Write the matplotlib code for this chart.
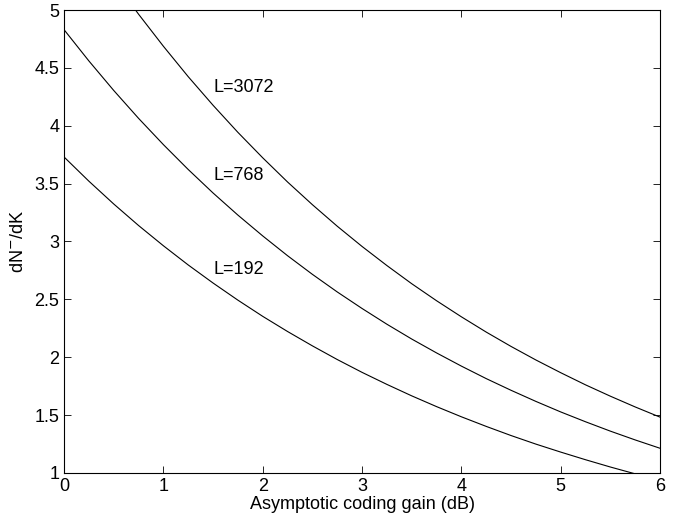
import numpy as np
import matplotlib.pyplot as plt

plt.rcParams['font.family'] = ['Liberation Sans', 'DejaVu Sans']

# coding gain (dB)
gain = [0, 0.25, 0.5, 0.75, 1, 1.25, 1.5, 1.75, 2, 2.25, 2.5, 2.75, 3,
        3.25, 3.5, 3.75, 4, 4.25, 4.5, 4.75, 5, 5.25, 5.5, 5.75, 6]

# values
l192 = [3.730, 3.521, 3.324, 3.138, 2.963, 2.797, 2.641, 2.493, 2.353, 2.222, 2.098,
        1.980, 1.869, 1.765, 1.666, 1.573, 1.485, 1.402, 1.323, 1.249, 1.180, 1.114,
        1.051, 0.992, 0.937]
l768 = [4.830, 4.560, 4.305, 4.064, 3.837, 3.622, 3.419, 3.228, 3.048, 2.877, 2.716,
        2.564, 2.421, 2.285, 2.157, 2.037, 1.923, 1.815, 1.714, 1.618, 1.527, 1.442,
        1.361, 1.285, 1.213]
l3072 = [5.900, 5.570, 5.258, 4.964, 4.687, 4.424, 4.177, 3.943, 3.723, 3.514, 3.318,
         3.132, 2.957, 2.792, 2.635, 2.488, 2.349, 2.217, 2.093, 1.976, 1.866, 1.761,
         1.663, 1.570, 1.482]

labels = ['L=192', 'L=768', 'L=3072']
label_x = [1.5, 1.5, 1.5]
label_y = [2.76, 3.57, 4.33]

fig = plt.figure(figsize=(6.89, 5.29), dpi=100)
ax = fig.add_axes([0.093, 0.106, 0.865, 0.875])

for ys in (l192, l768, l3072):
    ax.plot(gain, ys, color='black', linewidth=0.8)

for t, x, y in zip(labels, label_x, label_y):
    ax.text(x, y, t, fontsize=13, ha='left', va='center')

ax.set_xlim(0, 6)
ax.set_ylim(1, 5)
ax.set_xticks(np.arange(0, 7, 1))
ax.set_yticks(np.arange(1, 5.5, 0.5))
ax.set_yticklabels(['1', '1.5', '2', '2.5', '3', '3.5', '4', '4.5', '5'])
ax.tick_params(direction='in', top=True, right=True, length=5, labelsize=13, width=0.6)
for s in ax.spines.values():
    s.set_linewidth(0.8)

ax.set_xlabel('Asymptotic coding gain (dB)', fontsize=13, labelpad=1)
ax.set_ylabel(r'dN$^{-}$/dK', fontsize=13, labelpad=5)

fig.savefig('out.png', dpi=100)
